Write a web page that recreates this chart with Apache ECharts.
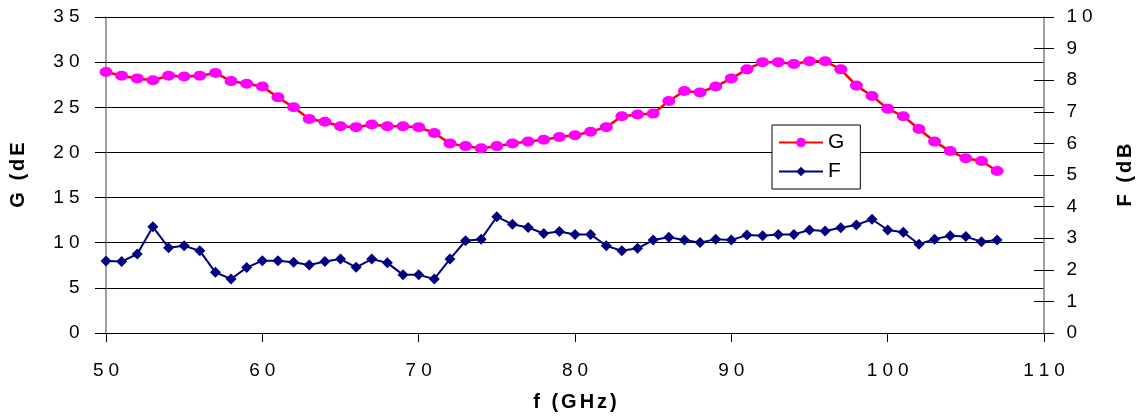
<!DOCTYPE html>
<html>
<head>
<meta charset="utf-8">
<script src="https://cdn.jsdelivr.net/npm/echarts@6/dist/echarts.min.js"></script>
<style>
html,body{margin:0;padding:0;background:#fff;}
#chart{width:1143px;height:417px;}
</style>
</head>
<body>
<div id="chart"></div>
<script>
const freq = [50,51,52,53,54,55,56,57,58,59,60,61,62,63,64,65,66,67,68,69,70,71,72,73,74,75,76,77,78,79,80,81,82,83,84,85,86,87,88,89,90,91,92,93,94,95,96,97,98,99,100,101,102,103,104,105,106,107];
const gValues = [28.9,28.5,28.2,28.0,28.5,28.4,28.5,28.8,27.9,27.6,27.3,26.1,25.0,23.7,23.4,22.9,22.8,23.1,22.9,22.9,22.8,22.15,21.0,20.7,20.45,20.7,21.0,21.2,21.4,21.7,21.9,22.3,22.8,24.0,24.2,24.3,25.7,26.8,26.65,27.3,28.2,29.2,30.0,30.0,29.8,30.1,30.1,29.2,27.4,26.25,24.85,24.0,22.6,21.2,20.15,19.35,19.05,17.95];
const fValues = [2.28,2.26,2.50,3.36,2.70,2.76,2.60,1.92,1.71,2.07,2.29,2.29,2.24,2.15,2.26,2.34,2.08,2.34,2.22,1.84,1.84,1.71,2.34,2.92,2.97,3.68,3.44,3.34,3.15,3.21,3.12,3.12,2.76,2.60,2.68,2.94,3.03,2.94,2.86,2.97,2.94,3.10,3.08,3.12,3.12,3.26,3.23,3.33,3.42,3.60,3.26,3.19,2.81,2.97,3.08,3.05,2.89,2.94];
const seriesNames = ['G','F'];
const axisTitles = {x:'f (GHz)', left:'G (dE', right:'F (dB'};

const font = 'Liberation Sans, Arial, sans-serif';
// wrap each character in a rich token to mimic the wide letter spacing of the original
const spaced = (s, key) => String(s).split('').map(c => '{' + key + '|' + c + '}').join('');
const digitRich = {d:{fontFamily:font,fontSize:19,color:'#000',padding:[0,2.5,0,2.5]}};
const titleRich = {t:{fontFamily:font,fontSize:20,fontWeight:'bold',color:'#000',padding:[0,1.5,0,1.5]}};

const chart = echarts.init(document.getElementById('chart'));
chart.setOption({
  animation:false,
  backgroundColor:'#fff',
  grid:{left:106,right:96,top:17,bottom:84,containLabel:false},
  legend:{
    data:seriesNames,
    orient:'vertical',
    left:772, top:125,
    padding:[7,16,7,6],
    itemGap:8,
    itemWidth:44, itemHeight:12,
    backgroundColor:'#fff',
    borderColor:'#000', borderWidth:1,
    textStyle:{fontFamily:font,fontSize:21,color:'#000'}
  },
  xAxis:{
    type:'value',min:50,max:110,interval:10,
    name:spaced(axisTitles.x,'t'),nameLocation:'middle',nameGap:59,
    nameTextStyle:{fontFamily:font,fontSize:20,fontWeight:'bold',color:'#000',rich:titleRich},
    axisLine:{lineStyle:{color:'#000',width:1}},
    axisTick:{show:true,inside:false,length:9,lineStyle:{color:'#000'}},
    axisLabel:{fontFamily:font,fontSize:19,color:'#000',margin:28,
      formatter:v=>spaced(v,'d'),rich:digitRich},
    splitLine:{show:false}
  },
  yAxis:[
    {
      type:'value',min:0,max:35,interval:5,position:'left',
      name:spaced(axisTitles.left,'t'),nameLocation:'middle',nameGap:78,nameRotate:90,
      nameTextStyle:{fontFamily:font,fontSize:20,fontWeight:'bold',color:'#000',rich:titleRich},
      axisLine:{show:true,lineStyle:{color:'#808080',width:1.5}},
      axisTick:{show:true,inside:false,length:11,lineStyle:{color:'#000'}},
      axisLabel:{fontFamily:font,fontSize:19,color:'#000',margin:24,
        formatter:v=>spaced(v,'d'),rich:digitRich},
      splitLine:{show:true,lineStyle:{color:'#000',width:1}}
    },
    {
      type:'value',min:0,max:10,interval:1,position:'right',
      name:spaced(axisTitles.right,'t'),nameLocation:'middle',nameGap:71,nameRotate:90,
      nameTextStyle:{fontFamily:font,fontSize:20,fontWeight:'bold',color:'#000',rich:titleRich},
      axisLine:{show:true,lineStyle:{color:'#808080',width:1.5}},
      axisTick:{show:true,inside:false,length:10,lineStyle:{color:'#000'}},
      axisLabel:{fontFamily:font,fontSize:19,color:'#000',margin:20,
        formatter:v=>spaced(v,'d'),rich:digitRich},
      splitLine:{show:false}
    },
    {
      type:'value',min:0,max:10,interval:1,position:'right',
      axisLine:{show:false},
      axisTick:{show:true,inside:true,length:10,lineStyle:{color:'#000'}},
      axisLabel:{show:false},
      splitLine:{show:false}
    }
  ],
  series:[
    {
      name:seriesNames[0],type:'line',yAxisIndex:0,
      data:freq.map((f,i)=>[f,gValues[i]]),
      symbol:'circle',symbolSize:[13,10],
      itemStyle:{color:'#ff00ff'},
      lineStyle:{color:'#ff0000',width:2.5},
      z:3
    },
    {
      name:seriesNames[1],type:'line',yAxisIndex:1,
      data:freq.map((f,i)=>[f,fValues[i]]),
      symbol:'diamond',symbolSize:[11,11],
      itemStyle:{color:'#000080'},
      lineStyle:{color:'#000080',width:2},
      z:3
    }
  ]
});
</script>
</body>
</html>
